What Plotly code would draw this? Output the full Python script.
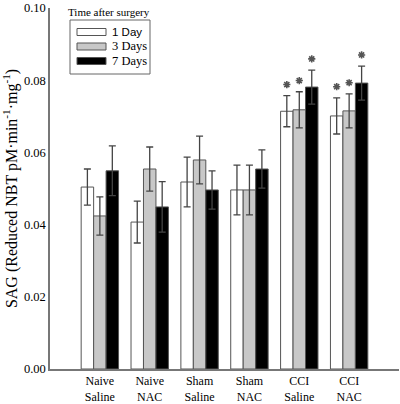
import plotly.graph_objects as go

categories = ["Naive<br>Saline", "Naive<br>NAC", "Sham<br>Saline", "Sham<br>NAC", "CCI<br>Saline", "CCI<br>NAC"]
series_names = ["1 Day", "3 Days", "7 Days"]
day1 = [0.0504, 0.0407, 0.0518, 0.0496, 0.0714, 0.0701]
day1_err = [0.0050, 0.0058, 0.0069, 0.0069, 0.0043, 0.0050]
day3 = [0.0424, 0.0554, 0.0579, 0.0496, 0.0718, 0.0715]
day3_err = [0.0053, 0.0061, 0.0066, 0.0069, 0.0050, 0.0047]
day7 = [0.0549, 0.0449, 0.0496, 0.0554, 0.0781, 0.0792]
day7_err = [0.0069, 0.0070, 0.0053, 0.0053, 0.0047, 0.0047]
# significance markers (1 = star)
sig1 = [0, 0, 0, 0, 1, 1]
sig3 = [0, 0, 0, 0, 1, 1]
sig7 = [0, 0, 0, 0, 1, 1]
y_ticks = [0.00, 0.02, 0.04, 0.06, 0.08, 0.10]

fills = ["#ffffff", "#c8c8c8", "#000000"]
legend_fonts = ["Liberation Sans", "Liberation Serif", "Liberation Serif"]
legend_sizes = [11.5, 12.5, 12.5]
serif = "Liberation Serif"
edge = "#555555"

x = list(range(len(categories)))
fig = go.Figure()
for name, vals, errs, col in zip(series_names, [day1, day3, day7], [day1_err, day3_err, day7_err], fills):
    fig.add_trace(go.Bar(
        x=x, y=vals, name=name,
        marker=dict(color=col, line=dict(color=edge, width=1)),
        error_y=dict(type="data", array=errs, color="#444444", thickness=1.3, width=3.5),
        showlegend=False,
    ))

# stars above error bars
offsets = [-1/3, 0, 1/3]
star_gap = 0.0031
sx, sy = [], []
for k, (vals, errs, sig) in enumerate(zip([day1, day3, day7], [day1_err, day3_err, day7_err], [sig1, sig3, sig7])):
    for i in range(len(categories)):
        if sig[i]:
            sx.append(i + offsets[k] * 0.75)
            sy.append(vals[i] + errs[i] + star_gap)
fig.add_trace(go.Scatter(
    x=sx, y=sy, mode="markers", showlegend=False, hoverinfo="skip",
    marker=dict(symbol="asterisk-open", size=6, color="#555555",
                line=dict(color="#555555", width=1.6)),
))

annotations = []
# manual legend (paper coordinates based on plot area)
L, R, T, B = 50, 399, 8, 369
W, H = R - L, B - T
def px(xp):
    return (xp - L) / W
def py(yp):
    return (B - yp) / H

shapes = [dict(type="rect", xref="paper", yref="paper",
               x0=px(70), x1=px(150), y0=py(74), y1=py(20),
               line=dict(color="#666666", width=1), fillcolor="white")]
rows = [32, 46.5, 61]
for name, col, ry, fam, fs in zip(series_names, fills, rows, legend_fonts, legend_sizes):
    shapes.append(dict(type="rect", xref="paper", yref="paper",
                       x0=px(77), x1=px(106), y0=py(ry + 3.5), y1=py(ry - 3.5),
                       line=dict(color=edge, width=1), fillcolor=col))
    annotations.append(dict(x=px(110), y=py(ry), xref="paper", yref="paper",
                            text=name, showarrow=False, xanchor="left", yanchor="middle",
                            font=dict(family=fam, size=fs, color="#000000")))
annotations.append(dict(x=px(109), y=py(12), xref="paper", yref="paper",
                        text="Time after surgery", showarrow=False, xanchor="center", yanchor="middle",
                        font=dict(family=serif, size=11, color="#000000")))

fig.update_layout(
    width=400, height=404,
    margin=dict(l=L, r=400 - R, t=T, b=404 - B),
    paper_bgcolor="white", plot_bgcolor="white",
    barmode="group", bargap=0.25, bargroupgap=0,
    font=dict(family=serif, color="#000000"),
    shapes=shapes, annotations=annotations,
    xaxis=dict(
        tickmode="array", tickvals=x, ticktext=categories,
        range=[-1, 6], showline=True, linecolor="#777777", linewidth=1.5,
        ticks="", showgrid=False, zeroline=False, automargin=False,
        tickfont=dict(family=serif, size=12, color="#000000"),
    ),
    yaxis=dict(
        range=[0, 0.1], tickvals=y_ticks, ticktext=[f"{v:.2f}" for v in y_ticks],
        showline=True, linecolor="#777777", linewidth=1.5,
        ticks="", showgrid=False, zeroline=False, automargin=False,
        tickfont=dict(family=serif, size=12.5, color="#000000"),
        title=dict(text="SAG (Reduced NBT pM·min<sup>-1</sup>·mg<sup>-1</sup>)",
                   font=dict(family=serif, size=16, color="#000000"), standoff=4),
    ),
)

fig.write_html("out.html", config={"displayModeBar": False},
               post_script="document.body.style.margin='0px';document.body.style.padding='0px';")
